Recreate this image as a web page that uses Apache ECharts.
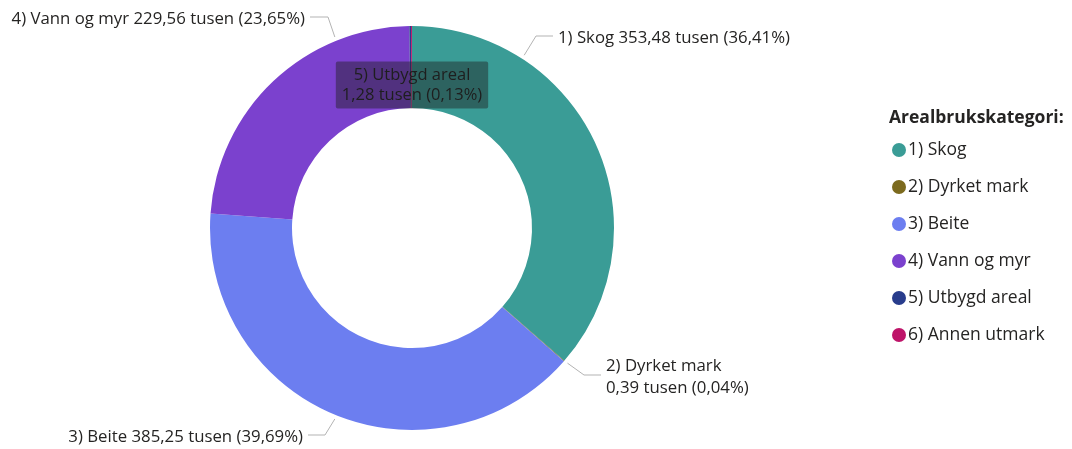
<!DOCTYPE html>
<html>
<head>
<meta charset="utf-8">
<script src="https://cdn.jsdelivr.net/npm/echarts@6/dist/echarts.min.js"></script>
<style>
html,body{margin:0;padding:0;background:#fff;}
#main{width:1072px;height:449px;}
</style>
</head>
<body>
<div id="main"></div>
<script>
// data
var categories = ['1) Skog', '2) Dyrket mark', '3) Beite', '4) Vann og myr', '5) Utbygd areal', '6) Annen utmark'];
var values = [353.48, 0.39, 385.25, 229.56, 1.28, 0.76];
var colors = ['#3A9C96', '#7C6A1E', '#6C7EF0', '#7B41CE', '#283C8C', '#BE1469'];
var legendTitle = 'Arealbrukskategori:';
var unit = 'tusen';

var FONT = '"Open Sans", "Noto Sans", sans-serif';
var CX = 412, CY = 228, R_IN = 120, R_OUT = 202;

var total = values.reduce(function(a, b){ return a + b; }, 0);
function fmt(v){ return v.toFixed(2).replace('.', ','); }
function labelText(i){
	var pct = values[i] / total * 100;
	var txt = fmt(values[i]) + ' ' + unit + ' (' + fmt(pct) + '%)';
	// two-line labels for the small slices
	if (i === 1 || i === 4) return categories[i] + '\n' + txt;
	return categories[i] + ' ' + txt;
}

// point on the ring at angle (degrees clockwise from top)
function polar(deg, r){
	var a = deg * Math.PI / 180;
	return [CX + Math.sin(a) * r, CY - Math.cos(a) * r];
}

// label placement, Power BI style: anchor angle, elbow, text position
var labelPlace = {
	0: {ang: 33,  elbow: [536, 36],  end: [553, 36],  x: 558, y: 38,  align: 'left'},
	1: {ang: 131, elbow: [584, 375], end: [601, 375], x: 606, y: 377, align: 'left'},
	2: {ang: 202, elbow: [325, 435], end: [308, 435], x: 303, y: 437, align: 'right'},
	3: {ang: 338, elbow: [328, 17],  end: [310, 17],  x: 305, y: 19,  align: 'right'},
	4: {x: CX, y: 85, align: 'center'}
};

var chart = echarts.init(document.getElementById('main'));
var option = {
	animation: false,
	color: colors,
	textStyle: {fontFamily: FONT},
	title: {
		text: legendTitle,
		left: 884,
		top: 104,
		textStyle: {fontFamily: FONT, fontSize: 17.5, fontWeight: 'bold', color: '#252423'}
	},
	legend: {
		orient: 'vertical',
		left: 887,
		top: 136,
		icon: 'circle',
		itemWidth: 14,
		itemHeight: 14,
		itemGap: 19,
		selectedMode: false,
		textStyle: {fontFamily: FONT, fontSize: 17.5, lineHeight: 18, color: '#252423', padding: [0, 0, 0, -3]},
		data: categories
	},
	series: [{
		type: 'pie',
		center: [CX, CY],
		radius: [R_IN, R_OUT],
		startAngle: 90,
		clockwise: true,
		avoidLabelOverlap: false,
		emphasis: {disabled: true},
		itemStyle: {borderWidth: 0},
		label: {
			show: true,
			fontFamily: FONT,
			fontSize: 16.8,
			color: '#252423',
			lineHeight: 22,
			formatter: function(p){ return labelText(p.dataIndex); }
		},
		labelLine: {show: true, lineStyle: {color: '#B3B3B3', width: 1}},
		labelLayout: function(p){
			var L = labelPlace[p.dataIndex];
			if (!L) return {};
			var out = {x: L.x, y: L.y, align: L.align, verticalAlign: 'middle'};
			if (L.ang !== undefined) {
				out.labelLinePoints = [polar(L.ang, R_OUT + 4), L.elbow, L.end];
			}
			return out;
		},
		data: categories.map(function(c, i){
			var d = {name: c, value: values[i]};
			if (i === 4) {
				d.label = {
					backgroundColor: 'rgba(30,30,30,0.45)',
					padding: [4, 6, 3, 6],
					borderRadius: 2,
					fontSize: 16.5,
					lineHeight: 20,
					color: '#1E1E1E',
					align: 'center'
				};
				d.labelLine = {show: false};
			}
			if (i === 5) {
				d.label = {show: false};
				d.labelLine = {show: false};
			}
			return d;
		})
	}]
};
chart.setOption(option);
</script>
</body>
</html>
